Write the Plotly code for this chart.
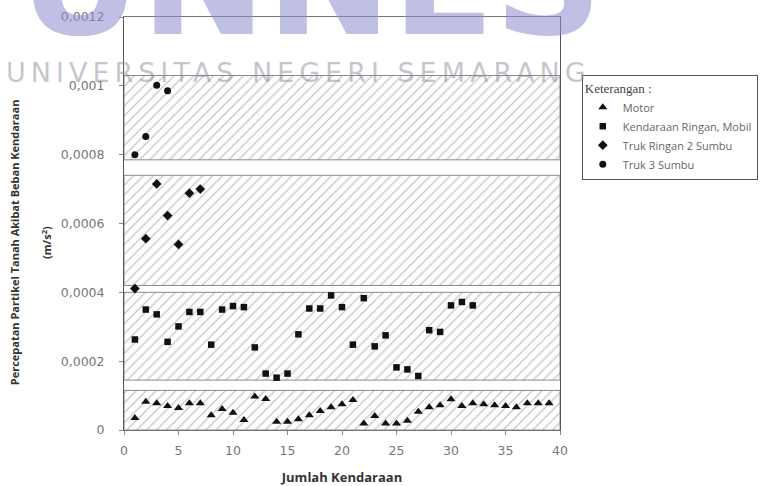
import plotly.graph_objects as go

# ---- data ----
motor_x = list(range(1, 40))
motor_y = [0.000035, 0.000082, 0.000078, 0.000070, 0.000064, 0.000078, 0.000078, 0.000043,
           0.000061, 0.000050, 0.000029, 0.000097, 0.000090, 0.000024, 0.000024, 0.000031,
           0.000043, 0.000055, 0.000066, 0.000075, 0.000087, 0.000019, 0.000041, 0.000019,
           0.000019, 0.000027, 0.000053, 0.000066, 0.000072, 0.000089, 0.000070, 0.000078,
           0.000075, 0.000072, 0.000070, 0.000066, 0.000078, 0.000078, 0.000078]

mobil_x = list(range(1, 33))
mobil_y = [0.000263, 0.000350, 0.000336, 0.000256, 0.000301, 0.000343, 0.000343, 0.000248,
           0.000350, 0.000360, 0.000357, 0.000240, 0.000164, 0.000152, 0.000164, 0.000278,
           0.000353, 0.000353, 0.000391, 0.000357, 0.000248, 0.000383, 0.000243, 0.000275,
           0.000182, 0.000176, 0.000157, 0.000290, 0.000285, 0.000362, 0.000372, 0.000362]

truk2_x = list(range(1, 8))
truk2_y = [0.000411, 0.000556, 0.000715, 0.000623, 0.000539, 0.000688, 0.000700]

truk3_x = [1, 2, 3, 4]
truk3_y = [0.000800, 0.000853, 0.001002, 0.000986]

band_lo = [0.0, 0.000145, 0.00042, 0.000785]
band_hi = [0.000115, 0.000400, 0.00074, 0.00103]

x_min, x_max = 0, 40
y_tickvals = [0, 0.0002, 0.0004, 0.0006, 0.0008, 0.001, 0.0012]
y_ticktext = ["0", "0,0002", "0,0004", "0,0006", "0,0008", "0,001", "0,0012"]
x_tickvals = [0, 5, 10, 15, 20, 25, 30, 35, 40]

fig = go.Figure()

# hatched bands
for lo, hi in zip(band_lo, band_hi):
    fig.add_trace(go.Scatter(
        x=[x_min, x_max, x_max, x_min, x_min],
        y=[lo, lo, hi, hi, lo],
        mode="lines", fill="toself",
        fillcolor="white",
        fillpattern=dict(shape="/", fgcolor="#8a8a8a", bgcolor="white", size=7, solidity=0.18),
        line=dict(color="#8a8a8a", width=1),
        showlegend=False, hoverinfo="skip"))

mk = "#111111"
fig.add_trace(go.Scatter(x=motor_x, y=motor_y, mode="markers", name="Motor",
                         marker=dict(symbol="triangle-up", size=8, color=mk)))
fig.add_trace(go.Scatter(x=mobil_x, y=mobil_y, mode="markers", name="Kendaraan Ringan, Mobil",
                         marker=dict(symbol="square", size=6.5, color=mk)))
fig.add_trace(go.Scatter(x=truk2_x, y=truk2_y, mode="markers", name="Truk Ringan 2 Sumbu",
                         marker=dict(symbol="diamond", size=7.5, color=mk)))
fig.add_trace(go.Scatter(x=truk3_x, y=truk3_y, mode="markers", name="Truk 3 Sumbu",
                         marker=dict(symbol="circle", size=7, color=mk)))

fig.update_layout(
    width=776, height=486,
    margin=dict(l=124, r=216, t=17, b=56),
    paper_bgcolor="white", plot_bgcolor="white",
    font=dict(family="Open Sans, DejaVu Sans, sans-serif", size=11, color="#666666"),
    legend=dict(
        x=1.05, y=0.86, xanchor="left", yanchor="top",
        bordercolor="#555555", borderwidth=1, bgcolor="white",
        font=dict(family="Open Sans, sans-serif", size=11, color="#666666"),
        title=dict(text="Keterangan :", font=dict(family="Liberation Serif, serif", size=13, color="#444444")),
        itemwidth=30, tracegroupgap=2,
    ),
    xaxis=dict(
        range=[x_min, x_max], tickvals=x_tickvals, showgrid=False, zeroline=False,
        automargin=False,
        ticks="outside", ticklen=4, tickcolor="#888888", ticklabelstandoff=5,
        showline=True, linecolor="#777777", linewidth=1, mirror=True,
        tickfont=dict(family="DejaVu Sans", size=12.5, color="#777777"),
        title=dict(text="<b>Jumlah Kendaraan</b>", font=dict(size=13, color="#333333"), standoff=15),
    ),
    yaxis=dict(
        range=[0, 0.0012], tickvals=y_tickvals, ticktext=y_ticktext, showgrid=False, zeroline=False,
        automargin=False,
        ticks="outside", ticklen=4, tickcolor="#888888", ticklabelstandoff=12,
        showline=True, linecolor="#555555", linewidth=1, mirror=True,
        tickfont=dict(family="DejaVu Sans", size=12.5, color="#777777"),
    ),
)

# y-axis title (two lines placed separately, as in the reference)
fig.add_annotation(text="<b>Percepatan Partikel Tanah Akibat Beban Kendaraan</b>",
                   xref="paper", yref="paper", x=-0.252, y=0.455, textangle=-90,
                   xanchor="center", yanchor="middle", showarrow=False,
                   font=dict(size=11, color="#333333"))
fig.add_annotation(text="<b>(m/s<sup>2</sup>)</b>",
                   xref="paper", yref="paper", x=-0.177, y=0.455, textangle=-90,
                   xanchor="center", yanchor="middle", showarrow=False,
                   font=dict(size=11, color="#333333"))

# watermark
fig.add_annotation(text="<b>UNNES</b>", xref="paper", yref="paper", x=-0.245, y=1.015,
                   xanchor="left", yanchor="bottom", showarrow=False,
                   font=dict(family="DejaVu Sans", size=150, color="rgba(140,140,205,0.55)"),
                   yshift=-60)
fig.add_annotation(text='<span style="letter-spacing:5px">UNIVERSITAS NEGERI SEMARANG</span>',
                   xref="paper", yref="paper", x=-0.275, y=0.865,
                   xanchor="left", yanchor="middle", showarrow=False,
                   font=dict(family="DejaVu Sans", size=27, color="rgba(140,140,155,0.5)"))

fig.write_html("out.html")
